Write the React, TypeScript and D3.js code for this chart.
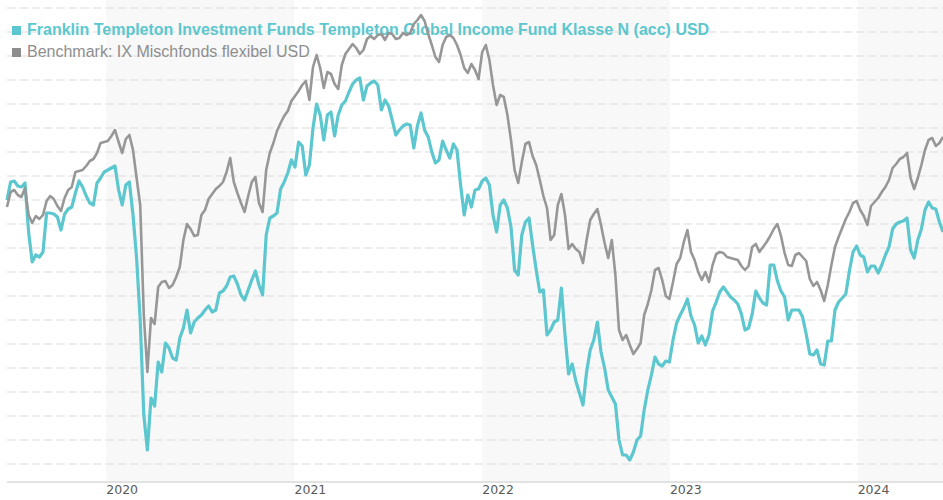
import React from 'react';
import * as d3 from 'd3';

const START_DATE = '2019-06-22';
const STEP_DAYS = 7;
const fundName = 'Franklin Templeton Investment Funds Templeton Global Income Fund Klasse N (acc) USD';
const benchName = 'Benchmark: IX Mischfonds flexibel USD';
const yearLabels = ['2020', '2021', '2022', '2023', '2024'];
const shadedYears = [2020, 2022, 2024];
const gridValues = [60, 72, 84, 96, 108, 120, 132, 144, 156, 168, 180, 192, 204, 216, 228, 240, 252, 264, 276, 288];

const fundValues = [
  192, 201, 201.5, 199, 198.5, 200.5, 176, 161, 164.5, 163.5,
  166, 185.5, 185.5, 185, 183.5, 177, 185, 187.5, 188.5, 195.5,
  201.5, 198.5, 194, 190.5, 189.5, 200.5, 203, 206, 207, 208,
  209, 197, 189.5, 199.5, 201, 184.5, 163, 132, 84.5, 67,
  93, 89, 111, 106, 120.5, 118, 113, 112, 123, 128,
  137, 125.5, 131, 133, 134.5, 137, 139, 136, 137, 145.5,
  146.5, 149, 153.5, 154, 150, 144.5, 142, 147, 152, 156.5,
  149.5, 144.5, 174.5, 183, 184, 185.5, 197.5, 201, 205.5, 212,
  208.5, 221, 219, 204.5, 209.5, 228, 240, 234.5, 222, 234.5,
  236, 224, 234.5, 239.5, 241.5, 246, 250, 252, 253, 242,
  249, 250.5, 251.5, 249.5, 237, 242, 239, 232, 224.5, 227,
  229, 230, 229.5, 218, 229, 235.5, 227, 223.5, 216, 210.5,
  212, 221.5, 217, 213, 220, 217, 199.5, 184.5, 194.5, 188.5,
  197, 197.5, 201.5, 203, 199.5, 184.5, 176, 189.5, 192, 188,
  178.5, 157, 154.5, 174.5, 181, 183, 169.5, 157, 146, 147,
  124.5, 127, 131, 132, 148, 124.5, 105, 110, 101.5, 95.5,
  89.5, 106, 117, 122, 131, 116, 108, 97, 93.5, 90,
  72, 64.5, 64.5, 62, 66, 72, 74, 87, 97, 104.5,
  113.5, 110, 109, 111.5, 111, 122, 130.5, 134.5, 138, 142.5,
  134, 129.5, 120.5, 124, 119.5, 124.5, 136.5, 141, 146, 148.5,
  146, 143.5, 142, 140, 135, 127, 128, 135, 146.5, 143,
  140.5, 139.5, 159.5, 159.5, 151.5, 146.5, 143.5, 132, 137, 137,
  137, 133.5, 125, 115, 114.5, 117, 110, 109.5, 121.5, 121.5,
  137, 141, 143, 145, 156.5, 166, 169, 164.5, 163.5, 156,
  159, 159, 155.5, 159.5, 164.5, 168.5, 177.5, 180, 181, 181.5,
  183, 167, 163, 172, 177.5, 187, 191, 188, 187.5, 181, 176,
];

const benchValues = [
  188.5, 196, 197, 194.5, 193.5, 198, 184.5, 180.5, 184, 182.5,
  184.5, 191.5, 194, 192.5, 189, 186.5, 193, 197, 198.5, 206,
  206.5, 207, 209, 211.5, 212.5, 215.5, 220.5, 221, 221.5, 224,
  227, 221, 215.5, 222.5, 224.5, 217, 203, 189.5, 134.5, 106,
  133, 130, 148.5, 151, 151.5, 148, 149.5, 153.5, 158.5, 172,
  180, 177.5, 174, 174.5, 184.5, 187, 192.5, 195, 197.5, 199,
  201, 206, 213, 201, 195.5, 190.5, 186, 194, 201, 203.5,
  190.5, 186, 207, 215.5, 220.5, 226.5, 230.5, 234, 236.5, 241.5,
  244, 246.5, 249.5, 251.5, 242, 258.5, 264.5, 258, 248, 256,
  255, 250, 247.5, 259.5, 265, 267.5, 270, 268, 265, 267,
  272.5, 274, 272.5, 274.5, 275, 272, 275.5, 275, 272.5, 273,
  275.5, 274.5, 275.5, 280, 282, 284.5, 281.5, 275, 269.5, 263.5,
  261, 269.5, 273.5, 274.5, 273, 269.5, 264.5, 258, 255.5, 260,
  257, 252.5, 266, 269.5, 262, 249.5, 239.5, 244.5, 243.5, 234.5,
  222, 207, 200.5, 211, 220, 221, 214, 209.5, 202, 194,
  188, 172, 174.5, 189.5, 195, 184.5, 167.5, 170, 167.5, 166,
  160.5, 172, 182, 185, 187.5, 179.5, 170.5, 163, 172, 154.5,
  127, 122, 124.5, 119.5, 115, 117.5, 120.5, 134.5, 140, 147,
  157, 158, 152, 144, 142.5, 151, 160, 163, 171, 177,
  166, 162, 156, 152, 156, 151, 159.5, 165, 166, 165.5,
  163.5, 163, 162.5, 162, 159, 157, 159, 168.5, 170, 166,
  168.5, 171, 174, 177.5, 180, 174, 165.5, 159.5, 159, 164.5,
  165.5, 163.5, 161.5, 152.5, 149, 151, 147, 141.5, 149.5, 159.5,
  168.5, 173.5, 178, 182.5, 186, 190.5, 191.5, 187, 184, 179.5,
  189, 191, 193, 196, 198.5, 202, 208, 210, 212.5, 213.5,
  215.5, 203, 197.5, 203, 209.5, 217, 222, 223, 219, 220.5, 223.5,
];

const W = 943;
const H = 500;
const LEFT = 7;
const AXIS_Y = 482;
const TEAL = '#5cc7ce';
const GRAY = '#979797';

export default function App() {
  const start = d3.utcParse('%Y-%m-%d')(START_DATE) as Date;
  const dates = fundValues.map((_, i) => d3.utcDay.offset(start, i * STEP_DAYS));
  const end = dates[dates.length - 1];

  const x = d3.scaleUtc().domain([start, end]).range([LEFT, W]);
  const y = d3.scaleLinear().domain([60, 288]).range([464, 8]);

  const line = d3
    .line<number>()
    .x((_, i) => x(dates[i]))
    .y((d) => y(d));

  const yearX = (yr: string) => x(Date.UTC(+yr, 0, 1));

  return (
    <svg
      width={W}
      height={H}
      style={{ position: 'absolute', left: 0, top: 0, background: '#fff' }}
      fontFamily="'Liberation Sans', Arial, sans-serif"
    >
      {shadedYears.map((yr) => {
        const x0 = x(Date.UTC(yr, 0, 1));
        const x1 = Math.min(W, x(Date.UTC(yr + 1, 0, 1)));
        return <rect key={yr} x={x0} y={0} width={x1 - x0} height={AXIS_Y} fill="#f8f8f8" />;
      })}
      {gridValues.map((v) => (
        <line
          key={v}
          x1={LEFT}
          x2={W}
          y1={y(v)}
          y2={y(v)}
          stroke="#dcdcdc"
          strokeWidth={1.2}
          strokeDasharray="8.5,3.8"
        />
      ))}
      <line x1={LEFT} x2={W} y1={AXIS_Y} y2={AXIS_Y} stroke="#dadada" strokeWidth={1.3} />
      {yearLabels.map((yr) => (
        <text
          key={yr}
          x={yearX(yr)}
          y={494}
          fontFamily="'DejaVu Sans', Verdana, sans-serif"
          fontSize={12.5}
          fill="#5a5a5a"
        >
          {yr}
        </text>
      ))}
      <rect x={12} y={26} width={9} height={9} fill={TEAL} />
      <text x={27} y={35} fontSize={16} fontWeight="bold" fill={TEAL}>
        {fundName}
      </text>
      <rect x={12} y={48} width={9} height={9} fill="#8e8e8e" />
      <text x={27} y={57} fontSize={16} fill="#8e8e8e">
        {benchName}
      </text>
      <path d={line(fundValues) || ''} fill="none" stroke={TEAL} strokeWidth={3.2} strokeLinejoin="round" />
      <path d={line(benchValues) || ''} fill="none" stroke={GRAY} strokeWidth={2.6} strokeLinejoin="round" />
    </svg>
  );
}
